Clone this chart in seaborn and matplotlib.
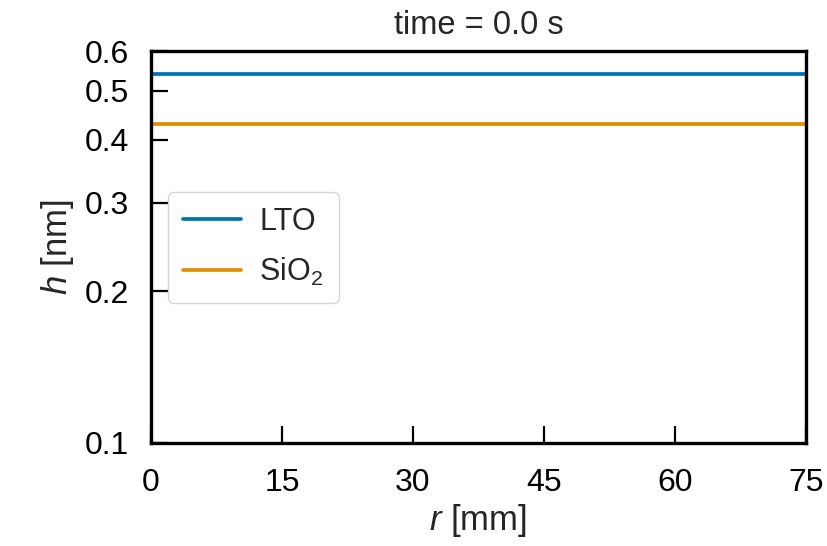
import matplotlib
matplotlib.use("Agg")
import matplotlib.pyplot as plt
import matplotlib.ticker as mticker
import seaborn as sns
import pandas as pd

r_mm = [0, 75]
h_lto = [0.54, 0.54]
h_sio2 = [0.43, 0.43]
labels = ["LTO", "SiO$_2$"]
x_ticks = [0, 15, 30, 45, 60, 75]
y_ticks = [0.1, 0.2, 0.3, 0.4, 0.5, 0.6]
y_tick_labels = ["0.1", "0.2", "0.3", "0.4", "0.5", "0.6"]

sns.set_theme(style="ticks")
plt.rcParams["font.family"] = ["Liberation Sans", "DejaVu Sans"]
plt.rcParams["mathtext.fontset"] = "custom"
plt.rcParams["mathtext.rm"] = "Liberation Sans"
plt.rcParams["mathtext.it"] = "Liberation Sans:italic"

df = pd.DataFrame({
    "r": r_mm + r_mm,
    "h": h_lto + h_sio2,
    "material": [labels[0]] * len(r_mm) + [labels[1]] * len(r_mm),
})

fig = plt.figure(figsize=(8.27, 5.46), dpi=100)
ax = fig.add_axes([151 / 827, 1 - 443 / 546, (806 - 151) / 827, (443 - 51) / 546])
pal = sns.color_palette("colorblind")
sns.lineplot(data=df, x="r", y="h", hue="material", palette=[pal[0], pal[1]],
             linewidth=2.7, ax=ax)
ax.set_yscale("log")
ax.set_xlim(0, 75)
ax.set_ylim(0.1, 0.6)
ax.set_xticks(x_ticks)
ax.yaxis.set_major_locator(mticker.FixedLocator(y_ticks))
ax.yaxis.set_major_formatter(mticker.FixedFormatter(y_tick_labels))
ax.yaxis.set_minor_locator(mticker.NullLocator())
ax.tick_params(direction="in", length=12, width=1.6, labelsize=23, colors="black")
ax.tick_params(axis="y", pad=16)
ax.tick_params(axis="x", pad=18)
for s in ax.spines.values():
    s.set_linewidth(2.4)
    s.set_color("black")
ax.set_xlabel("$r$ [mm]", fontsize=25, labelpad=3)
ax.set_ylabel("$h$ [nm]", fontsize=25, labelpad=6)
ax.set_title("time = 0.0 s", fontsize=23.5, pad=12)
leg = ax.legend(loc="center left", bbox_to_anchor=(0.002, 0.499), fontsize=22,
                frameon=True, handlelength=1.9, handletextpad=0.6,
                borderpad=0.5, labelspacing=0.62)
leg.set_title(None)
leg.get_frame().set_edgecolor("#cccccc")
fig.savefig("out.png", dpi=100)
